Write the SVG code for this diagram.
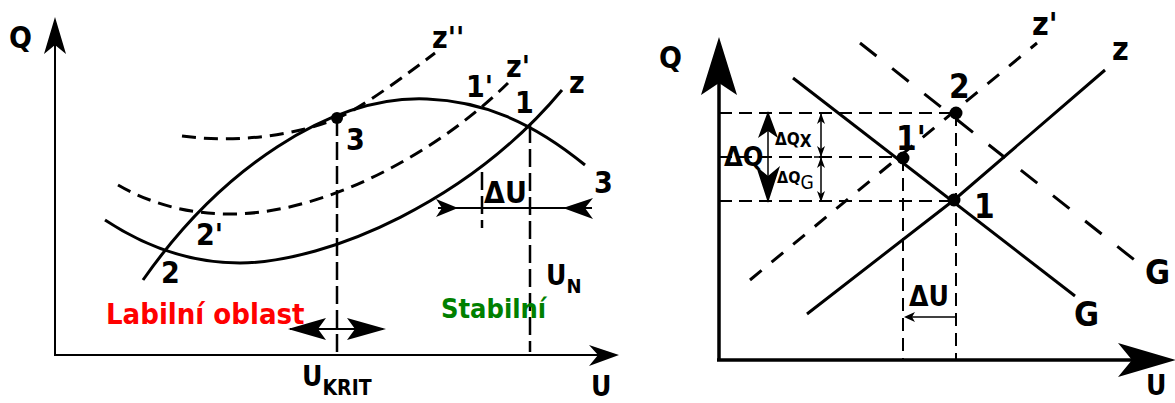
<svg xmlns="http://www.w3.org/2000/svg" width="1175" height="403" viewBox="0 0 1175 403">
<style>
.t{font-family:'DejaVu Sans Condensed','DejaVu Sans',sans-serif;font-weight:bold;font-stretch:condensed;fill:#000}
.r{font-weight:normal}
.s{fill:none;stroke:#000;stroke-width:3}
.ax{fill:none;stroke:#000;stroke-width:2}
.ax3{fill:none;stroke:#000;stroke-width:3.5}
.dl{fill:none;stroke:#000;stroke-width:3;stroke-dasharray:14,8}
.vl{fill:none;stroke:#000;stroke-width:2.5;stroke-dasharray:18,6}
.dr{fill:none;stroke:#000;stroke-width:2;stroke-dasharray:13,7}
.dg{fill:none;stroke:#000;stroke-width:3;stroke-dasharray:21,20}
.dz{fill:none;stroke:#000;stroke-width:3;stroke-dasharray:15,13}
.th{fill:none;stroke:#000;stroke-width:1.5}
.h{fill:#000;stroke:none}
</style>

<!-- LEFT DIAGRAM -->
<g id="left-axes">
  <line class="ax" x1="55" y1="355" x2="55" y2="45"/>
  <polygon class="h" points="55,17 66,54 55,45 44,54"/>
  <line class="ax" x1="54" y1="355" x2="600" y2="355"/>
  <polygon class="h" points="619,355 589,345 598,355 589,366"/>
  <text class="t" x="9" y="48" font-size="30">Q</text>
  <text class="t" x="591" y="396" font-size="28">U</text>
</g>

<g id="connectors">
  <path id="curve-z" class="s" d="M105,220 Q170,263 240,263 C330,262 470,200 562,90"/>
  <path id="curve-3" class="s" d="M143,280 C220,170 330,95 427,99 C480,101 530,120 585,165"/>
  <path id="curve-z1" class="dl" d="M118,185 Q170,215 235,214 C330,212 440,150 508,83"/>
  <path id="curve-z2" class="dl" d="M182,136 C240,144 300,134 338,118 C365,106 410,72 435,53"/>
  <line class="vl" x1="337" y1="118" x2="337" y2="355"/>
  <line class="vl" x1="530" y1="125" x2="530" y2="352"/>
  <line class="vl" x1="482" y1="172" x2="482" y2="228"/>
  <line class="ax" x1="438" y1="208" x2="592" y2="208"/>
  <polygon class="h" points="458,208 436,199 442,208 436,217"/>
  <polygon class="h" points="563,208 593,198 585,208 593,219"/>
  <line class="ax" x1="290" y1="329" x2="383" y2="329"/>
  <polygon class="h" points="288,329 326,318 318,329 326,340"/>
  <polygon class="h" points="386,329 347,318 355,329 347,340"/>
</g>

<g id="node-3">
  <circle cx="337" cy="118" r="6" fill="#000"/>
  <text class="t" x="346" y="150" font-size="30">3</text>
</g>
<g id="node-1">
  <text class="t" x="515" y="113" font-size="30">1</text>
</g>
<g id="node-1p">
  <text class="t" x="466" y="97" font-size="30">1'</text>
</g>
<g id="node-2">
  <text class="t" x="161" y="283" font-size="30">2</text>
</g>
<g id="node-2p">
  <text class="t" x="196" y="245" font-size="30">2'</text>
</g>
<g id="labels-left">
  <text class="t" x="432" y="48" font-size="30">z''</text>
  <text class="t" x="506" y="77" font-size="30">z'</text>
  <text class="t" x="569" y="93" font-size="30">z</text>
  <text class="t" x="594" y="193" font-size="30">3</text>
  <text class="t" x="484" y="203" font-size="30">ΔU</text>
  <text class="t" x="546" y="285" font-size="28">U<tspan font-size="20" dy="8">N</tspan></text>
  <text class="t" x="302" y="386" font-size="28">U<tspan font-size="21" dy="9">KRIT</tspan></text>
  <text class="t" x="106" y="324" font-size="29" style="fill:#ff0000">Labilní oblast</text>
  <text class="t" x="441" y="318" font-size="27" style="fill:#008000">Stabilní</text>
</g>

<!-- RIGHT DIAGRAM -->
<g id="right-axes">
  <line class="ax3" x1="719" y1="361" x2="719" y2="80"/>
  <polygon class="h" points="719,37 737,95 719,83 701,95"/>
  <line class="ax3" x1="717" y1="360" x2="1140" y2="360"/>
  <polygon class="h" points="1176,360 1118,343 1132,360 1118,377"/>
  <text class="t" x="659" y="68" font-size="30">Q</text>
  <text class="t" x="1146" y="395" font-size="28">U</text>
</g>

<g id="connectors-right">
  <line class="dr" x1="719" y1="113" x2="956" y2="113"/>
  <line class="dr" x1="719" y1="157" x2="903" y2="157"/>
  <line class="dr" x1="719" y1="201" x2="954" y2="201"/>
  <line class="dr" x1="903" y1="158" x2="903" y2="360"/>
  <line class="dr" x1="956" y1="113" x2="956" y2="360"/>
  <line class="s" x1="793" y1="78" x2="1075" y2="296"/>
  <path class="s" d="M807,314 L954,200 L1105,70"/>
  <line class="dz" x1="750" y1="280" x2="1037" y2="43"/>
  <line class="dg" x1="860" y1="43" x2="1137" y2="262"/>
  <line class="th" x1="768" y1="125" x2="768" y2="190"/>
  <polygon class="h" points="768,111 778,138 768,131 758,138"/>
  <polygon class="h" points="768,203 780,166 768,176 756,166"/>
  <line class="th" x1="821" y1="114" x2="821" y2="201"/>
  <polygon class="h" points="821,113 825,124 821,121 817,124"/>
  <polygon class="h" points="821,157 825,146 821,149 817,146"/>
  <polygon class="h" points="821,157 825,168 821,165 817,168"/>
  <polygon class="h" points="821,202 825,191 821,194 817,191"/>
  <line class="th" x1="814" y1="157" x2="828" y2="157"/>
  <line class="th" x1="908" y1="317" x2="955" y2="317"/>
  <polygon class="h" points="904,317 915,312 912,317 915,322"/>
</g>

<g id="node-r2">
  <circle cx="956" cy="113" r="6.5" fill="#000"/>
  <text class="t" x="949" y="98" font-size="33">2</text>
</g>
<g id="node-r1p">
  <circle cx="903" cy="158" r="6.5" fill="#000"/>
  <text class="t" x="896" y="150" font-size="33">1'</text>
</g>
<g id="node-r1">
  <circle cx="954" cy="200" r="6.5" fill="#000"/>
  <text class="t" x="974" y="218" font-size="33">1</text>
</g>
<g id="labels-right">
  <text class="t" x="1032" y="35" font-size="32">z'</text>
  <text class="t" x="1112" y="60" font-size="32">z</text>
  <text class="t" x="1074" y="326" font-size="34">G</text>
  <text class="t" x="1145" y="284" font-size="34">G</text>
  <text class="t" x="909" y="306" font-size="28">ΔU</text>
  <text class="t" x="724" y="166" font-size="27">ΔQ</text>
  <text class="t" x="775" y="145" font-size="17">ΔQ<tspan dy="2">X</tspan></text>
  <text class="t" x="777" y="183" font-size="16">ΔQ<tspan class="r" font-size="19" dy="6">G</tspan></text>
</g>
</svg>
